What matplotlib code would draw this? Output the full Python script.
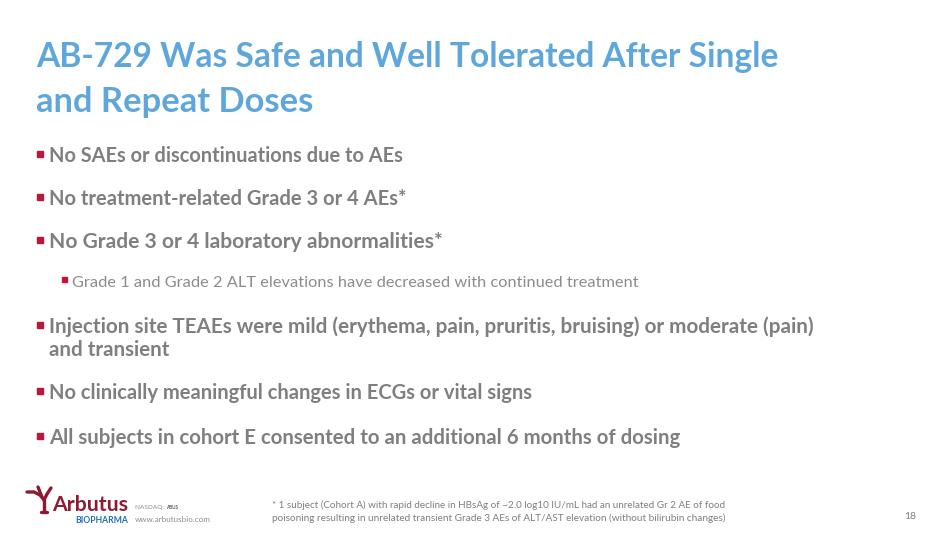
import matplotlib
matplotlib.use("Agg")
import matplotlib.pyplot as plt

W, H = 950, 534

TITLE_LINES = ["AB-729 Was Safe and Well Tolerated After Single",
               "and Repeat Doses"]

BULLETS = ["No SAEs or discontinuations due to AEs",
           "No treatment-related Grade 3 or 4 AEs*",
           "No Grade 3 or 4 laboratory abnormalities*",
           "Injection site TEAEs were mild (erythema, pain, pruritis, bruising) or moderate (pain)",
           "No clinically meaningful changes in ECGs or vital signs",
           "All subjects in cohort E consented to an additional 6 months of dosing"]
BULLET_CONT = {3: "and transient"}

SUB_BULLETS = {2: "Grade 1 and Grade 2 ALT elevations have decreased with continued treatment"}

FOOTNOTE = ["* 1 subject (Cohort A) with rapid decline in HBsAg of ~2.0 log10 IU/mL had an unrelated Gr 2 AE of food",
            "poisoning resulting in unrelated transient Grade 3 AEs of ALT/AST elevation (without bilirubin changes)"]

PAGE_NUM = "18"

BLUE = "#5FA7DB"
GREY = "#7F7F7F"
LIGHT_GREY = "#8C8C8C"
RED = "#C0143C"
DARK_RED = "#8E1B34"
LOGO_BLUE = "#1F6FB3"

FONT = "Lato"

fig = plt.figure(figsize=(W / 100, H / 100), dpi=100)
fig.patch.set_facecolor("white")
renderer = fig.canvas.get_renderer()


def px(x, y):
    return x / W, 1 - y / H


def fit_text(x, y, s, width, color, weight="normal", size=12):
    # place text at pixel position (left, baseline) and scale it to a target width
    t = fig.text(*px(x, y), s, color=color, fontsize=size, fontweight=weight,
                 family=FONT, ha="left", va="baseline")
    w = t.get_window_extent(renderer).width
    t.set_fontsize(size * width / w)
    return t


# title
fit_text(36, 67, TITLE_LINES[0], 744, BLUE, "bold", 24)
fit_text(36, 112, TITLE_LINES[1], 277, BLUE, "bold", 24)

# main bullets
baselines = [162, 205, 248, 333, 399, 444]
widths = [353, 356, 392, 761, 483, 629]
for i, s in enumerate(BULLETS):
    yb = baselines[i]
    fig.patches.append(plt.Rectangle(px(37, yb - 5), 6 / W, 6 / H,
                                     transform=fig.transFigure, color=RED))
    fit_text(49, yb, s, widths[i], GREY, "bold", 13)
    if i in BULLET_CONT:
        fit_text(49, yb + 23, BULLET_CONT[i], 120, GREY, "bold", 13)
    if i in SUB_BULLETS:
        fig.patches.append(plt.Rectangle(px(62, 287 - 5), 5 / W, 5 / H,
                                         transform=fig.transFigure, color=RED))
        fit_text(72, 287, SUB_BULLETS[i], 564, LIGHT_GREY, "normal", 11)

# footnote
fit_text(272, 508, FOOTNOTE[0], 455, GREY, "normal", 7)
fit_text(272, 521, FOOTNOTE[1], 454, GREY, "normal", 7)
fig.text(*px(916, 519), PAGE_NUM, color=GREY, fontsize=7.5, family=FONT,
         ha="right", va="baseline")

# logo: little tree + wordmark
tree = [[(44, 512), (44, 500)],
        [(44, 500), (40, 495), (34, 492), (27, 492)],
        [(44, 500), (47, 494), (51, 488)],
        [(42, 497), (40, 492), (38, 487)],
        [(41, 512), (47, 512)]]
for seg in tree:
    xs = [p[0] / W for p in seg]
    ys = [1 - p[1] / H for p in seg]
    fig.add_artist(plt.Line2D(xs, ys, color=DARK_RED, lw=2.4,
                              solid_capstyle="round", solid_joinstyle="round"))
fit_text(52, 511, "Arbutus", 76, DARK_RED, "bold", 17)
fit_text(75, 523, "BIOPHARMA", 53, LOGO_BLUE, "bold", 6)
fit_text(135, 509, "NASDAQ: ", 31, LIGHT_GREY, "normal", 5)
fit_text(166, 509, "ABUS", 12, "#555555", "bold", 5)
fit_text(135, 522, "www.arbutusbio.com", 76, LIGHT_GREY, "normal", 5)

fig.savefig("out.png", dpi=100, facecolor="white")
